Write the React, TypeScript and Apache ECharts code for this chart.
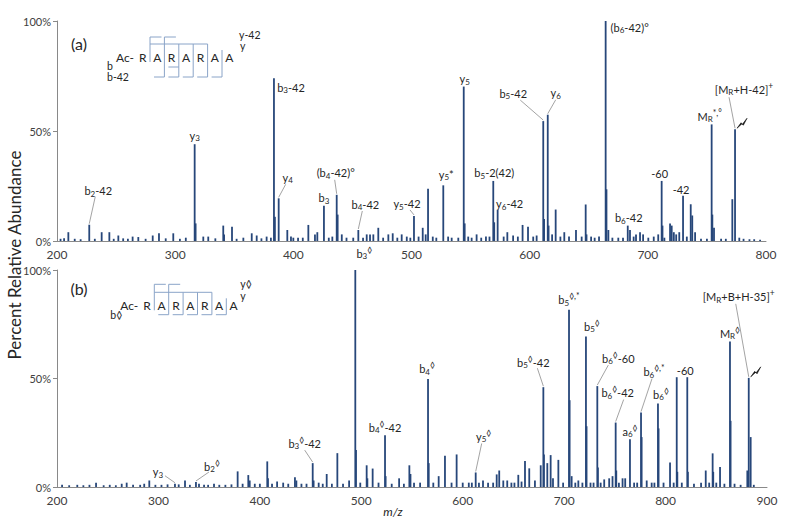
import React, { useEffect, useRef } from "react";
import * as echarts from "echarts";

// ---------- axis ticks ----------
const xTicksA = [200, 300, 400, 500, 600, 700, 800];
const xTicksB = [200, 300, 400, 500, 600, 700, 800, 900];
const yTicks = [0, 50, 100];

// ---------- panel (a) peaks: m/z and % relative abundance ----------
const peaksA_mz = [
  203, 206, 209.6, 215, 220, 227.3, 232, 237.8, 244.3, 248, 251.9, 256, 260, 264, 268.8, 275, 281, 286.3, 292, 298.4,
  304, 309, 316.5, 317.3, 323.8, 328, 334, 340.7, 341.4, 348.1, 352, 357.7, 364.8, 369, 373, 377.4, 381, 383.6, 384.4,
  387.6, 394.9, 398, 400, 404, 408, 412.7, 418.3, 420.3, 425.9, 430, 433, 436.7, 437.5, 441, 445, 450.7, 455, 459,
  462.1, 464.9, 467.7, 471.9, 476, 480.4, 484.1, 488, 491.7, 496, 499, 502.1, 506, 509.5, 512, 514, 518, 521, 526.9,
  531, 534, 539.6, 544.2, 545, 548, 550.9, 555.1, 559, 563, 566, 569.2, 570, 572.9, 578, 581.1, 586, 590, 594, 598.6,
  603, 605.9, 611.5, 612.2, 615.3, 616, 619, 622, 626, 629.3, 633.3, 639.2, 644, 647.4, 648.1, 652, 655, 658.7, 664.3,
  665, 666.6, 670, 675, 679, 683, 684.9, 688, 690, 693.4, 696, 700.4, 705, 708.8, 711.7, 712.4, 714, 718.8, 720.2,
  722, 724, 726.6, 729.8, 733, 736.3, 737.6, 740, 745, 750, 754, 754.6, 756, 762, 766, 771.5, 773.8, 777.4, 781, 786,
  790, 795,
];
const peaksA_int = [
  1, 1.2, 4, 1, 0.8, 7.4, 1, 4, 4, 1, 2.5, 1.2, 1, 2, 1.8, 1, 2.5, 3.5, 1.2, 3.5,
  1, 1.5, 44, 8, 2, 2, 1.2, 7, 3, 6.5, 1, 1.5, 3.5, 2.5, 1.2, 2, 1.5, 74, 11,
  19.4, 5, 2, 1.5, 1.5, 1.5, 7.3, 3, 4, 16, 1.5, 2, 21, 12, 3, 1.5, 1.5, 5, 1.5,
  3, 3, 3, 6, 1.5, 3, 3.5, 1.5, 3, 2, 1.5, 11.4, 2, 6, 3, 23.8, 2, 1.5, 25.3,
  2, 1.5, 1.5, 70.2, 8, 2, 1.5, 3, 1.5, 2, 2, 27.3, 8.5, 14.2, 2, 4, 2.5, 2, 7.3, 6.5,
  2, 2.5, 54.5, 10, 57.4, 7, 3, 14.3, 2, 4, 2, 5, 2, 16.6, 3, 2, 1.5, 2, 100,
  23.5, 5, 1.5, 1.5, 1.5, 7, 5, 2, 3, 4, 3, 1.5, 2, 3, 27.3, 7, 1.5, 8, 7,
  4, 3, 4, 20.6, 2, 16.7, 11.6, 4, 1, 1, 53, 12, 6, 1, 1, 19, 50.8, 1.5, 1, 0.8,
  0.8, 0.6,
];

// ---------- panel (b) peaks ----------
const peaksB_mz = [
  205, 212, 220, 226, 232, 238.5, 246, 252, 258, 263.8, 268.7, 275, 282, 286, 291, 297, 303, 309, 316.3, 320, 326.2,
  331, 337, 340, 345, 349, 354.8, 360, 366, 372, 378.1, 383, 388.6, 390, 395, 400, 407.3, 408, 412, 417, 423, 428,
  434.6, 436, 441, 446, 452.1, 453, 458, 462, 465.9, 471, 476.4, 482, 488, 494.1, 494.8, 499, 505.3, 506, 511.2, 517,
  523.4, 524, 530, 537.3, 542, 547.4, 548.5, 552, 558, 565.8, 566.5, 571, 576.3, 582.5, 589, 594, 600, 606, 609, 612.8,
  616, 620, 625, 630, 633.5, 636, 640, 643.9, 648, 651, 654.8, 658, 661.4, 665.6, 671.2, 676.9, 679.5, 680.1, 683.4,
  686.7, 689, 694.3, 699, 704.8, 705.4, 707.4, 711, 714, 718, 721.5, 722.1, 726, 729, 732.7, 733.3, 736, 739.5, 744.4,
  747.7, 750.8, 751.4, 754, 757.6, 760.2, 764.9, 769, 772, 775.8, 776.4, 781.4, 786.3, 789, 792.5, 793.1, 798, 804.4,
  808, 811, 811.6, 816, 821.4, 822, 828, 835, 839.6, 843, 846.4, 847, 850, 853.7, 858, 863.5, 864.1, 868, 874, 880.6,
  882, 883.9, 887,
];
const peaksB_int = [
  1, 0.8, 1, 0.8, 1, 2, 0.8, 1, 0.8, 1.5, 2, 1, 1, 1.5, 3, 1, 1, 1.2, 1.5, 1.2, 3,
  1, 2.3, 1.5, 1, 1, 1.5, 1, 1, 1.2, 7.2, 1.5, 5.5, 3, 1.5, 1.5, 11.8, 4, 1.5, 2.5, 2, 1.5,
  4.5, 3, 1.5, 1.5, 11, 3, 2, 1.5, 6, 1.5, 15.6, 1.5, 3, 100, 17, 2, 10, 4, 8.5, 2,
  23.9, 5, 1.5, 4, 1.5, 10, 6, 2, 2, 49.8, 11, 2, 5, 14.4, 2, 15, 2, 2, 2, 6.7,
  2, 3, 2, 2, 5.8, 7.6, 3, 3, 2, 2, 5.6, 2.5, 12, 8.6, 3, 10, 46, 15, 11,
  14.7, 4, 12.5, 2, 81.7, 40, 5, 2, 3, 2, 69.4, 28, 2, 2, 46.5, 9, 2, 3.5, 4,
  5, 29.7, 7.6, 2, 4, 4, 22, 2, 2, 34.3, 23, 3, 2, 2, 38.5, 27, 2, 11.3,
  2, 50.6, 7, 2, 50.6, 7, 1.5, 2, 7.6, 2, 15.5, 7, 2, 9.2, 1.5, 67.1, 30.5, 1.5, 1, 7.6,
  50.3, 23, 1,
];

// ---------- peak annotations (m/z of annotated peak + rich label text) ----------
const annA_mz = [227.3, 316.5, 383.6, 387.6, 436.7, 425.9, 455, 502.1, 526.9, 544.2, 569.2, 572.9, 611.5, 615.3, 664.3, 683, 711.7, 729.8, 754, 773.8];
const annA_text = [
  "{n|b}{s|2}{n|-42}", "{n|y}{s|3}", "{n|b}{s|3}{n|-42}", "{n|y}{s|4}", "{n|(b}{s|4}{n|-42)°}", "{n|b}{s|3}",
  "{n|b}{s|4}{n|-42}", "{n|y}{s|5}{n|-42}", "{n|y}{s|5}{n|*}", "{n|y}{s|5}", "{n|b}{s|5}{n|-2(42)}", "{n|y}{s|6}{n|-42}",
  "{n|b}{s|5}{n|-42}", "{n|y}{s|6}", "{n|(b}{s|6}{n|-42)°}", "{n|b}{s|6}{n|-42}", "{n|-60}", "{n|-42}",
  "{n|M}{s|R}{p|*,°}", "{n|[M}{s|R}{n|+H-42]}{p|+}",
];
const annB_mz = [316.3, 337, 452.1, 494.1, 523.4, 565.8, 612.8, 679.5, 704.8, 721.5, 732.7, 750.8, 764.9, 775.8, 792.5, 821.4, 863.5, 882];
const annB_text = [
  "{n|y}{s|3}", "{n|b}{s|2}{p|◊}", "{n|b}{s|3}{p|◊}{n|-42}", "{n|b}{s|3}{p|◊}", "{n|b}{s|4}{p|◊}{n|-42}", "{n|b}{s|4}{p|◊}",
  "{n|y}{s|5}{p|◊}", "{n|b}{s|5}{p|◊}{n|-42}", "{n|b}{s|5}{p|◊,*}", "{n|b}{s|5}{p|◊}", "{n|b}{s|6}{p|◊}{n|-60}",
  "{n|b}{s|6}{p|◊}{n|-42}", "{n|a}{s|6}{p|◊}", "{n|b}{s|6}{p|◊,*}", "{n|b}{s|6}{p|◊}", "{n|-60}", "{n|M}{s|R}{p|◊}",
  "{n|[M}{s|R}{n|+B+H-35]}{p|+}",
];
const boltA_mz = 773.8;
const boltB_mz = 882;

// ---------- layout of annotations: [dx, dy, leaderStartX, leaderStartY] relative to peak / label ----------
const layA: number[][] = [
  [9, -34, -3, 6], [0, -9], [17, 9], [9, -21, -2, 7], [-1, -22, -1, 7], [0, -8], [7, -26, -3, 7], [-7, -12, 3, 6],
  [3, -11], [1, -8], [1, -8], [12, -6], [-30, -28, 7, 7], [8, -22, 0, 7], [24, 6], [1, -8], [-2, -7], [-2, -6],
  [-2, -8], [9, -40, -15, 8],
];
const layB: number[][] = [
  [-17, -12, 7, 4], [16, -16, -3, 6], [-8, -20, 0, 7], [9, -17], [0, -8], [-1, -10], [8, -36, -2, 7], [-10, -25, 4, 6],
  [0, -10], [6, -10], [21, -28, -10, 7], [2, -30, 6, 7], [0, -8], [13, -41, -2, 7], [3, -9], [-2, -7], [0, -8],
  [-10, -81, -3, 7],
];

const seqLetters = ["R", "A", "R", "A", "R", "A", "A"];

const FONT = "Lato, 'Open Sans', sans-serif";
const TXT = "#262626";
const AXIS = "#898989";
const PEAK = "#27477A";
const SEQLINE = "#8AA4C8";
const LEADER = "#8C8C8C";

const rich = {
  n: { fontSize: 11, fontFamily: FONT, fill: TXT, lineHeight: 14, verticalAlign: "middle" },
  s: { fontSize: 8, fontFamily: FONT, fill: TXT, lineHeight: 14, padding: [6, 0, 0, 0], verticalAlign: "middle" },
  p: { fontSize: 8.5, fontFamily: FONT, fill: TXT, lineHeight: 14, padding: [0, 0, 7, 0], verticalAlign: "middle" },
};

const BOLT = [[0, 0], [4, -5.5], [5.2, -3.8], [10, -10], [6.3, -3], [5, -4.6]];

function xAxisFor(ticks: number[], gridIndex: number) {
  return {
    type: "value",
    gridIndex,
    min: ticks[0],
    max: ticks[ticks.length - 1],
    interval: ticks[1] - ticks[0],
    axisLine: { show: true, onZero: false, lineStyle: { color: AXIS, width: 1 } },
    axisTick: { show: false },
    axisLabel: { fontSize: 12, color: "#404040", fontFamily: FONT, margin: 7 },
    splitLine: { show: false },
  };
}
function yAxisFor(gridIndex: number) {
  return {
    type: "value",
    gridIndex,
    min: yTicks[0],
    max: yTicks[yTicks.length - 1],
    interval: yTicks[1] - yTicks[0],
    axisLine: { show: true, lineStyle: { color: AXIS, width: 1 } },
    axisTick: { show: true, length: 4, lineStyle: { color: AXIS } },
    axisLabel: { formatter: "{value}%", fontSize: 11, color: "#404040", fontFamily: FONT, margin: 6 },
    splitLine: { show: false },
  };
}

function seqGraphics(ox: number, oy: number, panelB: boolean) {
  const els: any[] = [];
  const step = 14.4;
  const bottom = panelB ? 9.4 : 20;
  const top = panelB ? -21 : -20;
  seqLetters.forEach((l, i) => {
    els.push({ type: "text", x: ox + (i - 0.5) * step, y: oy, style: { text: l, font: `12px ${FONT}`, fill: TXT, align: "center", verticalAlign: "middle" } });
  });
  els.push({ type: "text", x: ox - 16, y: oy, style: { text: "Ac-", font: `12px ${FONT}`, fill: TXT, align: "right", verticalAlign: "middle" } });
  const ln = (pts: number[][]) => ({ type: "polyline", shape: { points: pts.map(([a, b]) => [ox + a, oy + b]) }, style: { stroke: SEQLINE, lineWidth: 1, fill: null }, silent: true });
  // b-type brackets
  els.push(ln([[11.5, top], [0, top], [0, 5]]));
  els.push(ln([[step + 11.5, top], [step, top], [step, bottom]]));
  els.push(ln([[step - 10.4, bottom], [step, bottom]]));
  els.push(ln([[0, -13], [4 * step, -13]]));
  for (let k = 2; k <= 5; k++) {
    const sx = k * step;
    els.push(ln([[sx, k === 5 ? -7 : -13], [sx, bottom], [sx - 10.4, bottom]]));
  }
  if (!panelB) els.push(ln([[2 * step - 10.4, 10], [2 * step, 10]]));
  const small = (t: string, x: number, y: number) => ({ type: "text", x: ox + x, y: oy + y, style: { text: t, font: `10.5px ${FONT}`, fill: TXT, align: "left", verticalAlign: "middle" } });
  if (!panelB) {
    els.push(small("b", -43, 8.5));
    els.push(small("b-42", -43, 19.5));
    els.push(small("y-42", 89, -22));
    els.push(small("y", 90, -11));
  } else {
    els.push(small("b◊", -44, 9.5));
    els.push(small("y◊", 86, -21));
    els.push(small("y", 86, -9));
  }
  return els;
}

export default function App() {
  const ref = useRef<HTMLDivElement>(null);
  useEffect(() => {
    if (!ref.current) return;
    const chart = echarts.init(ref.current, null, { renderer: "svg" });
    const option: any = {
      animation: false,
      backgroundColor: "#ffffff",
      textStyle: { fontFamily: FONT },
      grid: [
        { left: 57, top: 21, width: 709, height: 220, containLabel: false },
        { left: 57, top: 270, width: 710, height: 217, containLabel: false },
      ],
      xAxis: [xAxisFor(xTicksA, 0), xAxisFor(xTicksB, 1)],
      yAxis: [yAxisFor(0), yAxisFor(1)],
      series: [
        {
          type: "bar", xAxisIndex: 0, yAxisIndex: 0, barWidth: 1.8, silent: true,
          itemStyle: { color: PEAK }, data: peaksA_mz.map((m, i) => [m, peaksA_int[i]]),
        },
        {
          type: "bar", xAxisIndex: 1, yAxisIndex: 1, barWidth: 1.8, silent: true,
          itemStyle: { color: PEAK }, data: peaksB_mz.map((m, i) => [m, peaksB_int[i]]),
        },
      ],
    };
    chart.setOption(option);

    const g: any[] = [];
    const addAnn = (grid: number, mzs: number[], ints: number[], annMz: number[], annText: string[], lay: number[][]) => {
      annMz.forEach((m, i) => {
        const k = mzs.indexOf(m);
        const [px, py] = chart.convertToPixel({ gridIndex: grid }, [mzs[k], ints[k]]) as number[];
        const L = lay[i];
        const cx = px + L[0];
        const cy = py + L[1];
        g.push({ type: "text", x: cx, y: cy, z: 10, silent: true, style: { text: annText[i], rich, fill: TXT, font: `11px ${FONT}`, align: "center", verticalAlign: "middle" } });
        if (L.length > 2) {
          g.push({ type: "line", z: 9, silent: true, shape: { x1: cx + L[2], y1: cy + L[3], x2: px, y2: py - 1 }, style: { stroke: LEADER, lineWidth: 0.8 } });
        }
      });
    };
    addAnn(0, peaksA_mz, peaksA_int, annA_mz, annA_text, layA);
    addAnn(1, peaksB_mz, peaksB_int, annB_mz, annB_text, layB);

    const addBolt = (grid: number, mzs: number[], ints: number[], m: number) => {
      const k = mzs.indexOf(m);
      const [px, py] = chart.convertToPixel({ gridIndex: grid }, [mzs[k], ints[k]]) as number[];
      g.push({ type: "polygon", z: 10, silent: true, shape: { points: BOLT.map(([a, b]) => [px + 2 + a, py - 1 + b]) }, style: { fill: "#111111", stroke: "#111111", lineWidth: 0.6 } });
    };
    addBolt(0, peaksA_mz, peaksA_int, boltA_mz);
    addBolt(1, peaksB_mz, peaksB_int, boltB_mz);

    g.push(...seqGraphics(150, 57, false));
    g.push(...seqGraphics(154.3, 305.3, true));

    g.push({ type: "text", x: 79, y: 43, style: { text: "(a)", font: `16px ${FONT}`, fill: TXT, align: "center", verticalAlign: "middle" } });
    g.push({ type: "text", x: 79, y: 288, style: { text: "(b)", font: `16px ${FONT}`, fill: TXT, align: "center", verticalAlign: "middle" } });
    g.push({ type: "text", x: 14, y: 255, rotation: Math.PI / 2, style: { text: "Percent Relative Abundance", font: `17px ${FONT}`, fill: TXT, align: "center", verticalAlign: "middle" } });
    g.push({ type: "text", x: 393, y: 511, style: { text: "m/z", font: `italic 12px ${FONT}`, fill: TXT, align: "center", verticalAlign: "middle" } });

    chart.setOption({ graphic: g });
    return () => chart.dispose();
  }, []);
  return <div ref={ref} style={{ position: "absolute", left: 0, top: 0, width: 800, height: 525 }} />;
}
